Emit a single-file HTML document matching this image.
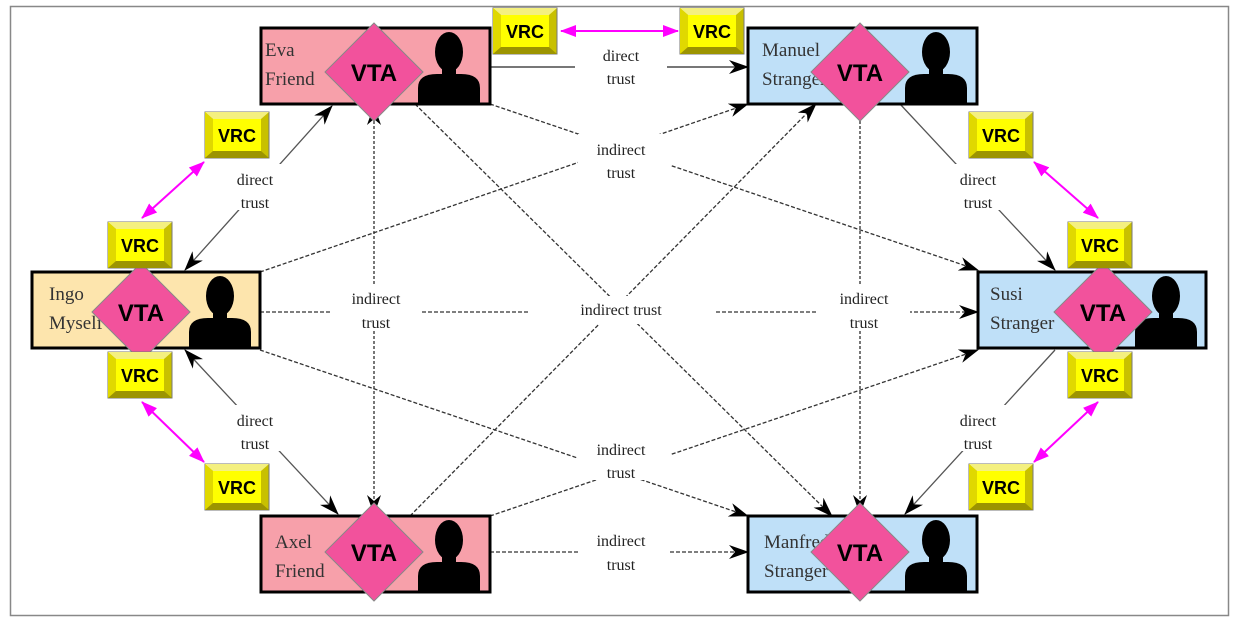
<!DOCTYPE html>
<html><head><meta charset="utf-8"><style>
html,body{margin:0;padding:0;background:#fff;}
svg{display:block;}
.lbl{font-family:"Liberation Serif",serif;font-size:16px;fill:#222;text-anchor:middle;}
.nm{font-family:"Liberation Serif",serif;font-size:19px;fill:#333;}
.vta{font-family:"Liberation Sans",sans-serif;font-size:24px;font-weight:bold;fill:#000;text-anchor:middle;}
.vrc{font-family:"Liberation Sans",sans-serif;font-size:18px;font-weight:bold;fill:#000;text-anchor:middle;}
</style></head><body>
<svg width="1237" height="623" viewBox="0 0 1237 623" xmlns="http://www.w3.org/2000/svg">
<defs>
<marker id="ah" viewBox="0 0 20 14" refX="19" refY="7" markerWidth="20" markerHeight="14" markerUnits="userSpaceOnUse" orient="auto-start-reverse">
<path d="M0,0 L20,7 L0,14 L6,7 Z" fill="#000"/></marker>
<marker id="mh" viewBox="0 0 16 12" refX="15" refY="6" markerWidth="16" markerHeight="12" markerUnits="userSpaceOnUse" orient="auto-start-reverse">
<path d="M0,0 L16,6 L0,12 Z" fill="#f0f"/></marker>
<g id="sil"><ellipse cx="0" cy="24" rx="14" ry="20" fill="#000"/><rect x="-7" y="38" width="14" height="12" fill="#000"/><path d="M-31,76 L-31,60 Q-31,46 -12,46 L12,46 Q31,46 31,60 L31,76 Z" fill="#000"/></g>
<g id="vrcb"><rect x="0" y="0" width="64" height="46" fill="#c8c000" stroke="#777"/><polygon points="0,0 64,0 56,7 8,7" fill="#f4f080"/><polygon points="0,0 8,7 8,39 0,46" fill="#e0d800"/><polygon points="0,46 8,39 56,39 64,46" fill="#9c9400"/><rect x="8" y="7" width="48" height="32" fill="#ffff00"/></g>
</defs>
<rect x="10.5" y="6.5" width="1218" height="609" fill="none" stroke="#888" stroke-width="1.5"/>

<g stroke="#555" stroke-width="1.3" fill="none">
<line x1="490" y1="67" x2="748" y2="67" stroke="#777" stroke-width="2" marker-end="url(#ah)"/>
<line x1="185" y1="270" x2="332" y2="106" marker-start="url(#ah)" marker-end="url(#ah)"/>
<line x1="185" y1="350" x2="338" y2="514" marker-start="url(#ah)" marker-end="url(#ah)"/>
<line x1="900" y1="104" x2="1055" y2="270" marker-end="url(#ah)"/>
<line x1="1055" y1="350" x2="905" y2="514" marker-end="url(#ah)"/>
</g>
<g stroke="#333" stroke-width="1.3" fill="none" stroke-dasharray="4,2">
<line x1="490" y1="552" x2="748" y2="552" marker-end="url(#ah)"/>
<line x1="260" y1="312" x2="978" y2="312" marker-end="url(#ah)"/>
<line x1="374" y1="106" x2="374" y2="514" stroke="#777" stroke-width="2" stroke-dasharray="3,2" marker-start="url(#ah)" marker-end="url(#ah)"/>
<line x1="860" y1="106" x2="860" y2="514" stroke="#777" stroke-width="2" stroke-dasharray="3,2" marker-end="url(#ah)"/>
<line x1="410" y1="516" x2="816" y2="104" marker-end="url(#ah)"/>
<line x1="415" y1="104" x2="832" y2="516" marker-end="url(#ah)"/>
<line x1="490" y1="104" x2="978" y2="270" marker-end="url(#ah)"/>
<line x1="260" y1="272" x2="748" y2="104" marker-end="url(#ah)"/>
<line x1="260" y1="350" x2="748" y2="516" marker-end="url(#ah)"/>
<line x1="490" y1="516" x2="978" y2="350" marker-end="url(#ah)"/>
</g>

<g fill="#fff">
<rect x="575" y="42" width="92" height="45"/>
<rect x="225" y="164" width="60" height="46"/>
<rect x="225" y="405" width="60" height="46"/>
<rect x="948" y="164" width="60" height="46"/>
<rect x="948" y="405" width="60" height="46"/>
<rect x="578" y="134" width="92" height="46"/>
<rect x="578" y="434" width="92" height="46"/>
<rect x="578" y="526" width="92" height="46"/>
<rect x="330" y="284" width="92" height="46"/>
<rect x="818" y="284" width="92" height="46"/>
<rect x="530" y="296" width="186" height="28"/>
</g>
<g class="lbl">
<text x="621" y="61">direct</text><text x="621" y="84">trust</text>
<text x="255" y="185">direct</text><text x="255" y="208">trust</text>
<text x="255" y="426">direct</text><text x="255" y="449">trust</text>
<text x="978" y="185">direct</text><text x="978" y="208">trust</text>
<text x="978" y="426">direct</text><text x="978" y="449">trust</text>
<text x="621" y="155">indirect</text><text x="621" y="178">trust</text>
<text x="621" y="455">indirect</text><text x="621" y="478">trust</text>
<text x="621" y="546">indirect</text><text x="621" y="570">trust</text>
<text x="376" y="304">indirect</text><text x="376" y="328">trust</text>
<text x="864" y="304">indirect</text><text x="864" y="328">trust</text>
<text x="621" y="315">indirect trust</text>
</g>

<g stroke="#000" stroke-width="3">
<rect x="261" y="28" width="229" height="76" fill="#f7a0aa"/>
<rect x="748" y="28" width="229" height="76" fill="#bfe0f8"/>
<rect x="32" y="272" width="228" height="76" fill="#fde5ad"/>
<rect x="978" y="272" width="228" height="76" fill="#bfe0f8"/>
<rect x="261" y="516" width="229" height="76" fill="#f7a0aa"/>
<rect x="748" y="516" width="229" height="76" fill="#bfe0f8"/>
</g>
<use href="#sil" x="449" y="28"/>
<use href="#sil" x="936" y="28"/>
<use href="#sil" x="220" y="272"/>
<use href="#sil" x="1166" y="272"/>
<use href="#sil" x="449" y="516"/>
<use href="#sil" x="936" y="516"/>
<g class="nm">
<text x="265" y="56">Eva</text><text x="265" y="85">Friend</text>
<text x="762" y="56">Manuel</text><text x="762" y="85">Stranger</text>
<text x="49" y="300">Ingo</text><text x="49" y="329">Myself</text>
<text x="990" y="300">Susi</text><text x="990" y="329">Stranger</text>
<text x="275" y="548">Axel</text><text x="275" y="577">Friend</text>
<text x="764" y="548">Manfred</text><text x="764" y="577">Stranger</text>
</g>

<g fill="#f2529c" stroke="#888" stroke-width="1">
<polygon points="374,23 423,72 374,121 325,72"/>
<polygon points="860,23 909,72 860,121 811,72"/>
<polygon points="141,263 190,312 141,361 92,312"/>
<polygon points="1103,263 1152,312 1103,361 1054,312"/>
<polygon points="374,503 423,552 374,601 325,552"/>
<polygon points="860,503 909,552 860,601 811,552"/>
</g>
<g class="vta">
<text x="374" y="81">VTA</text><text x="860" y="81">VTA</text>
<text x="141" y="321">VTA</text><text x="1103" y="321">VTA</text>
<text x="374" y="561">VTA</text><text x="860" y="561">VTA</text>
</g>

<use href="#vrcb" x="493" y="8"/><use href="#vrcb" x="680" y="8"/>
<use href="#vrcb" x="205" y="112"/><use href="#vrcb" x="108" y="222"/>
<use href="#vrcb" x="108" y="352"/><use href="#vrcb" x="205" y="464"/>
<use href="#vrcb" x="969" y="112"/><use href="#vrcb" x="1068" y="222"/>
<use href="#vrcb" x="1068" y="352"/><use href="#vrcb" x="969" y="464"/>
<g class="vrc">
<text x="525" y="38">VRC</text><text x="712" y="38">VRC</text>
<text x="237" y="142">VRC</text><text x="140" y="252">VRC</text>
<text x="140" y="382">VRC</text><text x="237" y="494">VRC</text>
<text x="1001" y="142">VRC</text><text x="1100" y="252">VRC</text>
<text x="1100" y="382">VRC</text><text x="1001" y="494">VRC</text>
</g>

<g stroke="#f0f" stroke-width="2">
<line x1="561" y1="31" x2="678" y2="31" marker-start="url(#mh)" marker-end="url(#mh)"/>
<line x1="142" y1="218" x2="204" y2="162" marker-start="url(#mh)" marker-end="url(#mh)"/>
<line x1="142" y1="402" x2="204" y2="462" marker-start="url(#mh)" marker-end="url(#mh)"/>
<line x1="1034" y1="162" x2="1098" y2="218" marker-start="url(#mh)" marker-end="url(#mh)"/>
<line x1="1034" y1="462" x2="1098" y2="402" marker-start="url(#mh)" marker-end="url(#mh)"/>
</g>
</svg>
</body></html>
